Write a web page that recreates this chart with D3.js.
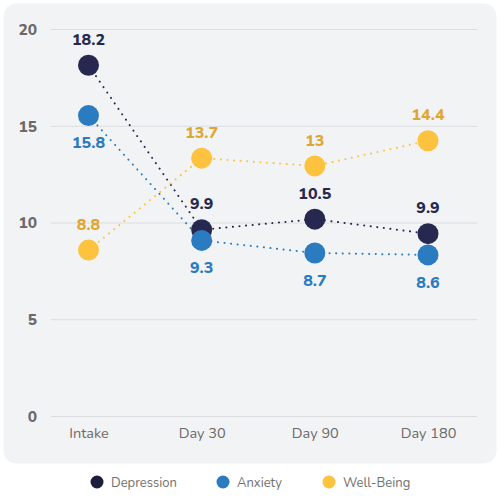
<!DOCTYPE html>
<html lang="en">
<head>
<meta charset="utf-8">
<title>Outcomes over time</title>
<script src="https://cdn.jsdelivr.net/npm/d3@7"></script>
<style>
  body { margin: 0; background: #fff; }
  svg { display: block; font-family: "Nunito", Lato, "Open Sans", sans-serif; }
</style>
</head>
<body>
<div id="chart"></div>
<script>
// data
var timepoints = ["Intake", "Day 30", "Day 90", "Day 180"];
var depression = [18.15, 9.65, 10.2, 9.45];
var anxiety = [15.55, 9.1, 8.45, 8.35];
var wellBeing = [8.6, 13.35, 12.95, 14.25];
// printed labels on the points
var depressionLabels = ["18.2", "9.9", "10.5", "9.9"];
var anxietyLabels = ["15.8", "9.3", "8.7", "8.6"];
var wellBeingLabels = ["8.8", "13.7", "13", "14.4"];
var yTicks = [0, 5, 10, 15, 20];

var series = [
  { name: "Depression", values: depression, labels: depressionLabels, color: "#27284f", labelColor: "#27284f", legendColor: "#1d1d3d", dy: -26 },
  { name: "Anxiety", values: anxiety, labels: anxietyLabels, color: "#2b7bc1", labelColor: "#2b7bc1", legendColor: "#2b7bc1", dy: 27 },
  { name: "Well-Being", values: wellBeing, labels: wellBeingLabels, color: "#fdc23e", labelColor: "#e1a62e", legendColor: "#fdc23e", dy: -26 }
];

var w = 500, h = 500;
var svg = d3.select("#chart").append("svg")
  .attr("width", w)
  .attr("height", h);

// card
svg.append("rect")
  .attr("x", 3.5).attr("y", 3.5)
  .attr("width", 493).attr("height", 460)
  .attr("rx", 13)
  .attr("fill", "#f2f3f5");

var x = d3.scalePoint()
  .domain(timepoints)
  .range([88.5, 428]);

var y = d3.scaleLinear()
  .domain([0, 20])
  .range([416.5, 29.5]);

// grid
svg.append("g")
  .selectAll("line")
  .data(yTicks)
  .enter()
  .append("line")
  .attr("x1", 51).attr("x2", 477)
  .attr("y1", function(d) { return y(d); })
  .attr("y2", function(d) { return y(d); })
  .attr("stroke", "#dcdde1")
  .attr("stroke-width", 1);

// y axis labels
var yAxis = svg.append("g")
  .attr("transform", "translate(37,0)")
  .call(d3.axisLeft(y).tickValues(yTicks).tickSize(0).tickPadding(0));
yAxis.select(".domain").remove();
yAxis.selectAll("text")
  .attr("font-size", 15.5)
  .attr("font-weight", 800)
  .attr("fill", "#6a6a6a")
  .attr("font-family", "Nunito, Lato, sans-serif");

// x axis labels
var xAxis = svg.append("g")
  .attr("transform", "translate(0,428)")
  .call(d3.axisBottom(x).tickSize(0).tickPadding(0));
xAxis.select(".domain").remove();
xAxis.selectAll("text")
  .attr("font-size", 14.5)
  .attr("fill", "#6a6a6a")
  .attr("font-family", "Nunito, Lato, sans-serif");

var line = d3.line()
  .x(function(d, i) { return x(timepoints[i]); })
  .y(function(d) { return y(d); });

// dotted lines first so dots sit on top
series.forEach(function(s) {
  svg.append("path")
    .datum(s.values)
    .attr("d", line)
    .attr("fill", "none")
    .attr("stroke", s.color)
    .attr("stroke-width", 2)
    .attr("stroke-linecap", "round")
    .attr("stroke-dasharray", "0.1 6.5");
});

series.forEach(function(s) {
  var g = svg.append("g");
  g.selectAll("circle")
    .data(s.values)
    .enter()
    .append("circle")
    .attr("cx", function(d, i) { return x(timepoints[i]); })
    .attr("cy", function(d) { return y(d); })
    .attr("r", 10.5)
    .attr("fill", s.color);

  g.selectAll("text")
    .data(s.values)
    .enter()
    .append("text")
    .attr("x", function(d, i) { return x(timepoints[i]); })
    .attr("y", function(d) { return y(d) + s.dy; })
    .attr("dy", "0.35em")
    .attr("text-anchor", "middle")
    .attr("font-size", 16)
    .attr("font-weight", 800)
    .attr("fill", s.labelColor)
    .text(function(d, i) { return s.labels[i]; });
});

// legend
var legendX = [97, 223, 329];
var legend = svg.append("g")
  .selectAll("g")
  .data(series)
  .enter()
  .append("g")
  .attr("transform", function(d, i) { return "translate(" + legendX[i] + ",482)"; });

legend.append("circle")
  .attr("r", 6.5)
  .attr("fill", function(d) { return d.legendColor; });

legend.append("text")
  .attr("x", 14)
  .attr("dy", "0.35em")
  .attr("font-size", 13)
  .attr("fill", "#707070")
  .text(function(d) { return d.name; });
</script>
</body>
</html>
